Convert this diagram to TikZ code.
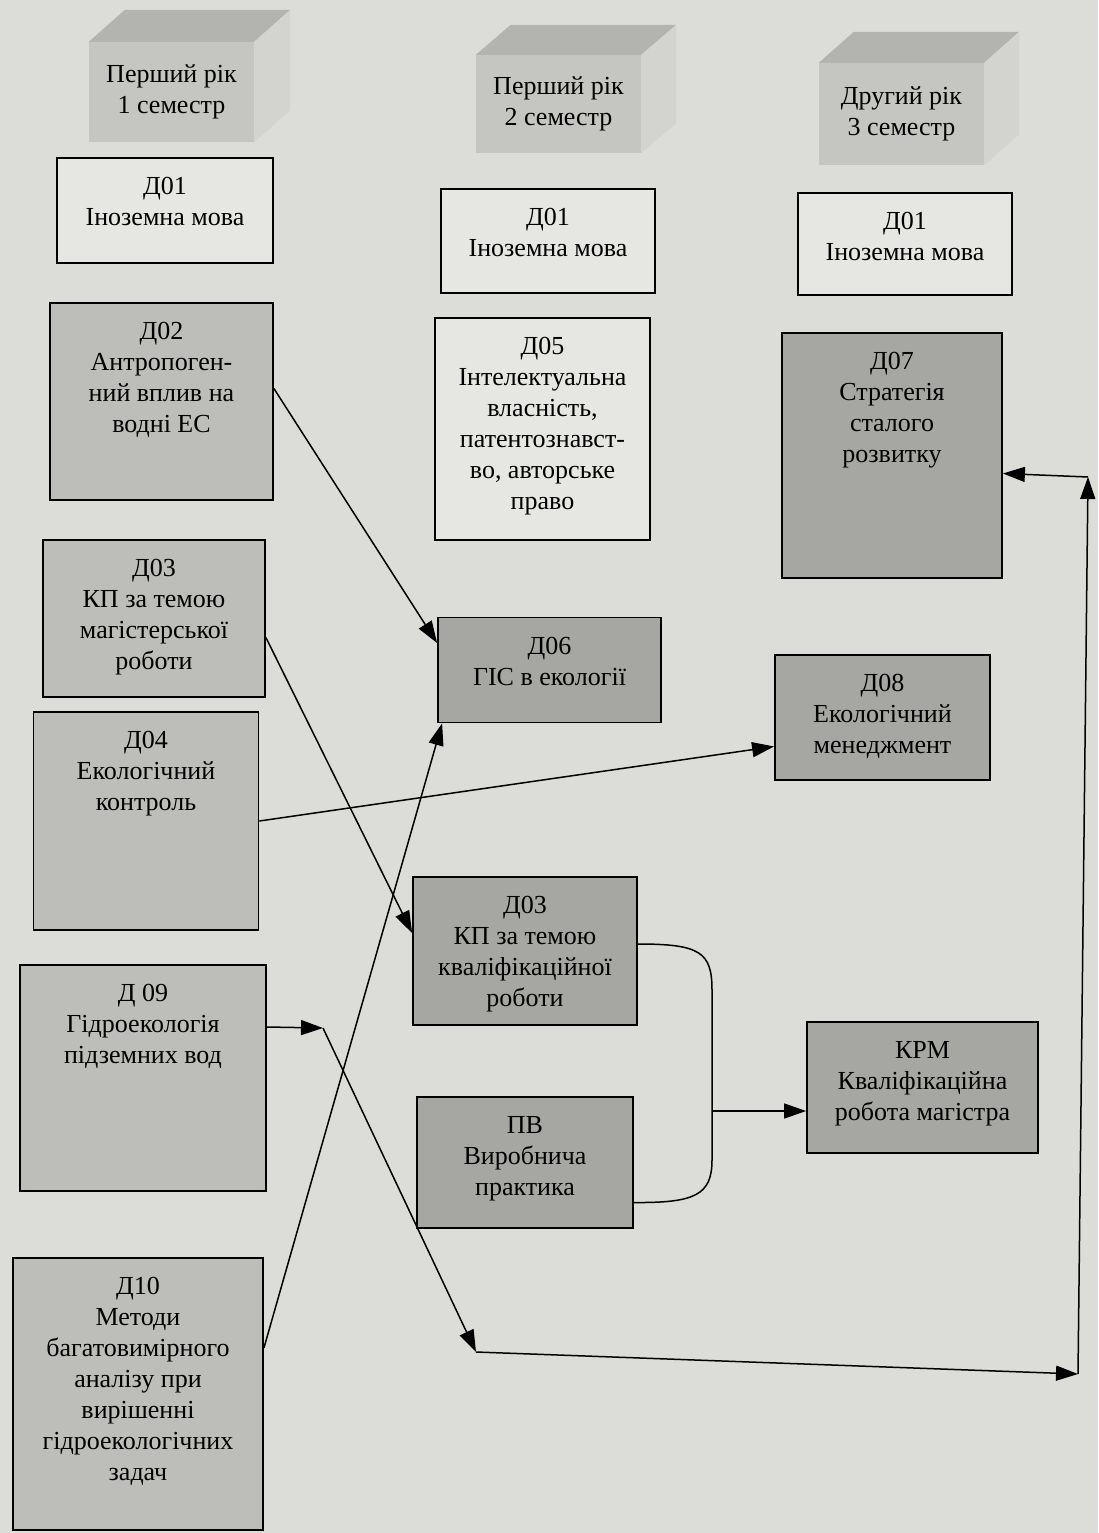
\documentclass[tikz,border=0pt]{standalone}
\usepackage{fontspec}
\setmainfont{Liberation Serif}
\usetikzlibrary{arrows.meta}
\definecolor{paper}{HTML}{DCDCD8}
\definecolor{blank}{HTML}{E6E6E2}
\definecolor{light}{HTML}{BDBDB9}
\definecolor{dark}{HTML}{A6A6A2}
\definecolor{cubefront}{HTML}{C5C5C1}
\definecolor{cubetop}{HTML}{B3B3AF}
\definecolor{cubeside}{HTML}{D3D3CF}
\begin{document}
\begin{tikzpicture}
	[x=1pt,y=-1pt,
	font=\fontsize{26}{31}\selectfont,
	>={Triangle[length=22pt,width=15pt]},
	box/.style={draw, line width=1.8pt, inner sep=0pt},
	whitebox/.style={box, fill=blank},
	lightbox/.style={box, fill=light},
	darkbox/.style={box, fill=dark},
	txt/.style={anchor=north, align=center, yshift=-20pt, inner sep=0pt},
	cube/.style={fill=cubefront, align=center, inner sep=0pt,
		minimum width=165pt},
	link/.style={->, line width=1.5pt},
	line/.style={line width=1.5pt}]
	\useasboundingbox (0,0) rectangle (1098,1533);
	\fill[paper] (0,0) rectangle (1098,1533);

	% semester cubes
	\node[cube, minimum height=100pt] (c1) at (171.5,92) {Перший рік\\1 семестр};
	\node[cube, minimum height=98pt] (c2) at (558.5,104) {Перший рік\\2 семестр};
	\node[cube, minimum height=102pt] (c3) at (901.5,114) {Другий рік\\3 семестр};
	\foreach \c/\dx/\dy in {c1/36/32, c2/35/30, c3/35/31} {
		\fill[cubetop] (\c.north west) -- ++(\dx,-\dy) -- ([shift={(\dx,-\dy)}]\c.north east) -- (\c.north east) -- cycle;
		\fill[cubeside] (\c.north east) -- ++(\dx,-\dy) -- ([shift={(\dx,-\dy)}]\c.south east) -- (\c.south east) -- cycle;
	}

	% first semester
	\node[whitebox, minimum width=216pt, minimum height=105pt] (d01a) at (165,210.5)
		[label={[txt]north:Д01\\Іноземна мова}] {};
	\node[lightbox, minimum width=223pt, minimum height=197pt] (d02) at (161.5,401.5)
		[label={[txt]north:Д02\\Антропоген-\\ний вплив на\\водні ЕС}] {};
	\node[lightbox, minimum width=222pt, minimum height=157pt] (d03) at (154,618.5)
		[label={[txt]north:Д03\\КП за темою\\магістерської\\роботи}] {};
	\node[lightbox, minimum width=225pt, minimum height=218pt] (d04) at (146,821)
		[label={[txt]north:Д04\\Екологічний\\контроль}] {};
	\node[lightbox, minimum width=246pt, minimum height=226pt] (d09) at (143,1078)
		[label={[txt]north:Д 09\\Гідроекологія\\підземних вод}] {};
	\node[lightbox, minimum width=250pt, minimum height=272pt] (d10) at (138,1394)
		[label={[txt]north:Д10\\Методи\\багатовимірного\\аналізу при\\вирішенні\\гідроекологічних\\задач}] {};

	% second semester
	\node[whitebox, minimum width=214pt, minimum height=104pt] (d01b) at (548,241)
		[label={[txt]north:Д01\\Іноземна мова}] {};
	\node[whitebox, minimum width=215pt, minimum height=222pt] (d05) at (542.5,429)
		[label={[txt]north:Д05\\Інтелектуальна\\власність,\\патентознавст-\\во, авторське\\право}] {};
	\node[darkbox, minimum width=223pt, minimum height=105pt] (d06) at (549.5,670)
		[label={[txt]north:Д06\\ГІС в екології}] {};
	\node[darkbox, minimum width=224pt, minimum height=148pt] (d03b) at (525,951)
		[label={[txt]north:Д03\\КП за темою\\кваліфікаційної\\роботи}] {};
	\node[darkbox, minimum width=216pt, minimum height=131pt] (pv) at (525,1162.5)
		[label={[txt]north:ПВ\\Виробнича\\практика}] {};

	% third semester
	\node[whitebox, minimum width=214pt, minimum height=102pt] (d01c) at (905,244)
		[label={[txt]north:Д01\\Іноземна мова}] {};
	\node[darkbox, minimum width=220pt, minimum height=245pt] (d07) at (892,455.5)
		[label={[txt]north:Д07\\Стратегія\\сталого\\розвитку}] {};
	\node[darkbox, minimum width=215pt, minimum height=125pt] (d08) at (882.5,717.5)
		[label={[txt]north:Д08\\Екологічний\\менеджмент}] {};
	\node[darkbox, minimum width=231pt, minimum height=131pt] (kpm) at (922.5,1087.5)
		[label={[txt]north:КРМ\\Кваліфікаційна\\робота магістра}] {};

	% links
	\draw[link] ([yshift=13pt]d02.east) -- ([yshift=27pt]d06.west);
	\draw[link] ([yshift=-19pt]d03.east) -- ([yshift=18pt]d03b.west);
	\draw[link] (d04.east) -- ([yshift=-29pt]d08.west);
	\draw[link] ([yshift=46pt]d10.east) -- ([xshift=5pt]d06.south west);

	\coordinate (j1) at (323,1028);
	\coordinate (j2) at (476,1352);
	\coordinate (j3) at (1078,1374);
	\coordinate (j4) at (1088,477);
	\draw[link] ([yshift=51pt]d09.east) -- (j1);
	\draw[link] (j1) -- (j2);
	\draw[link] (j2) -- (j3);
	\draw[link] (j3) -- (j4);
	\draw[link] (j4) -- ([yshift=-18pt]d07.east);

	\draw[line] ([yshift=7pt]d03b.east) .. controls (700,944) and (712,952) .. (712,990)
		-- (712,1160) .. controls (712,1195) and (695,1203) .. ([yshift=-40pt]pv.east);
	\coordinate (fork) at (712,1111);
	\draw[link] (fork) -- (kpm.west |- fork);
\end{tikzpicture}
\end{document}
